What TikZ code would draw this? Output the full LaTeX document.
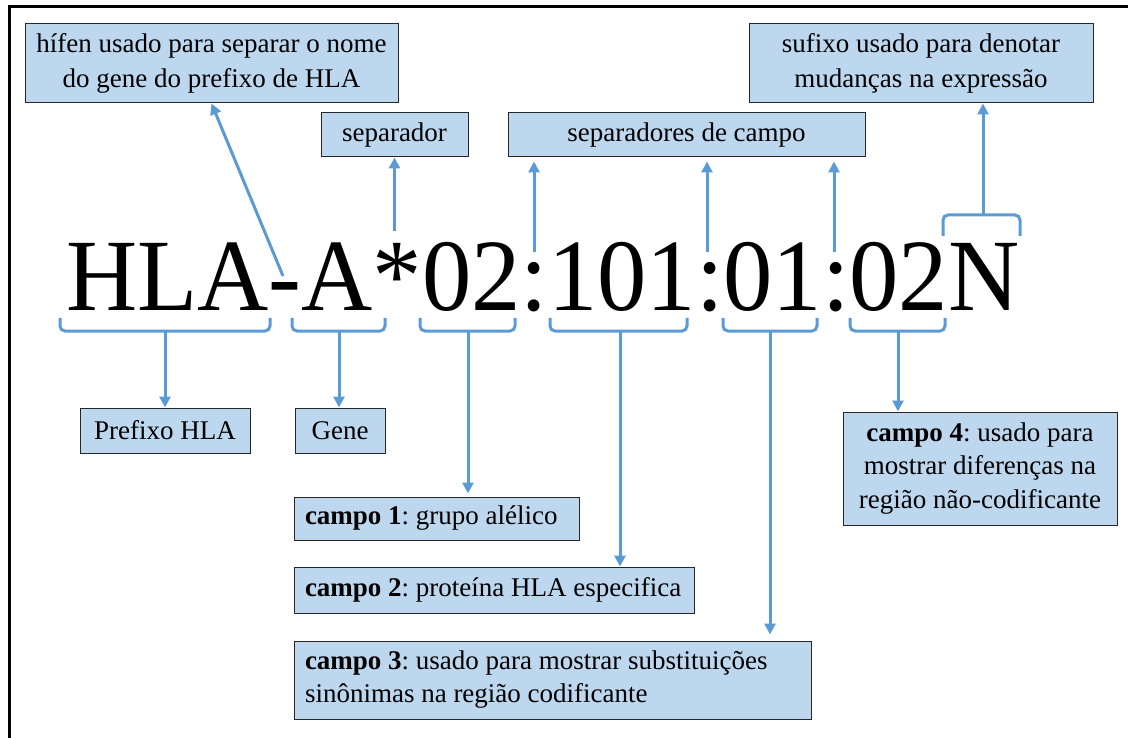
\documentclass[tikz,border=0pt]{standalone}
\usepackage{fontspec}
\setmainfont{Liberation Serif}
\usetikzlibrary{arrows.meta}
\definecolor{boxblue}{RGB}{189,215,238}
\definecolor{arrblue}{RGB}{91,155,213}
\frenchspacing
\begin{document}
\begin{tikzpicture}[x=1pt,y=-1pt,
  lbl/.style={draw=black!85, line width=1pt, fill=boxblue, inner sep=0pt,
    font=\fontsize{27}{33}\selectfont\frenchspacing, align=center},
  lblleft/.style={lbl, align=flush left},
  conn/.style={arrblue, line width=3pt, -{Triangle[length=11pt,width=11pt]}},
  brc/.style={arrblue, line width=3pt, rounded corners=5pt}]
\useasboundingbox (0,0) rectangle (1128,738);
\draw[line width=3.5pt] (9.5,738) -- (9.5,6.5) -- (1128,6.5);

% main code
\node[anchor=base west, inner sep=0pt, font=\fontsize{98.6}{98}\selectfont] (code) at (66,311)
  {\scalebox{1}[1.04]{HLA-A*02:101:01:02N}};

% boxes
\node[lbl, minimum width=373pt, minimum height=79pt, font=\fontsize{27}{35}\selectfont] (hifen) at (211.5,63.5)
  {hífen usado para separar o nome\\do gene do prefixo de HLA};
\node[lbl, minimum width=147pt, minimum height=44pt] (sep) at (394.5,135) {separador};
\node[lbl, minimum width=357pt, minimum height=44pt] (sepc) at (686.5,135) {separadores de campo};
\node[lbl, minimum width=344pt, minimum height=79pt, font=\fontsize{27}{35}\selectfont] (sufixo) at (921,63.5)
  {sufixo usado para denotar\\mudanças na expressão};
\node[lbl, minimum width=170pt, minimum height=45pt] (prefixo) at (165,430.5) {Prefixo HLA};
\node[lbl, minimum width=90pt, minimum height=45pt] (gene) at (340,430.5) {Gene};
\node[lblleft, minimum width=285pt, minimum height=43pt, text width=263pt] (c1) at (436.5,518.5)
  {\textbf{campo 1}: grupo alélico};
\node[lblleft, minimum width=400pt, minimum height=46pt, text width=378pt] (c2) at (494,590)
  {\textbf{campo 2}: proteína HLA especifica};
\node[lblleft, minimum width=517pt, minimum height=78pt, text width=495pt] (c3) at (552.5,680)
  {\textbf{campo 3}: usado para mostrar substituições\\sinônimas na região codificante};
\node[lbl, minimum width=274pt, minimum height=113pt, font=\fontsize{27}{33.5}\selectfont] (c4) at (980,468.5)
  {\textbf{campo 4}: usado para\\mostrar diferenças na\\região não-codificante};

% braces
\draw[brc] (60,318) -- (60,331) -- (270,331) -- (270,318);
\draw[brc] (292,318) -- (292,331) -- (385,331) -- (385,318);
\draw[brc] (420,318) -- (420,331) -- (515,331) -- (515,318);
\draw[brc] (550,318) -- (550,331) -- (687,331) -- (687,318);
\draw[brc] (723,318) -- (723,331) -- (817,331) -- (817,318);
\draw[brc] (850,318) -- (850,331) -- (945,331) -- (945,318);
\draw[brc] (943,236) -- (943,215) -- (1020,215) -- (1020,236);

\coordinate (bHLA) at (165,331);
\coordinate (bA) at (339,331);
\coordinate (bF1) at (468,331);
\coordinate (bF2) at (620,331);
\coordinate (bF3) at (770,331);
\coordinate (bF4) at (898,331);
\coordinate (bN) at (983,215);
\coordinate (hy) at (283,276);
\coordinate (ast) at (394.5,231);
\coordinate (col1) at (534,252);
\coordinate (col2) at (707,252);
\coordinate (col3) at (834,252);

% connectors
\draw[conn] (bHLA) -- (bHLA |- prefixo.north);
\draw[conn] (bA) -- (bA |- gene.north);
\draw[conn, shorten >=3pt] (bF1) -- (bF1 |- c1.north);
\draw[conn] (bF2) -- (bF2 |- c2.north);
\draw[conn, shorten >=6pt] (bF3) -- (bF3 |- c3.north);
\draw[conn] (bF4) -- (bF4 |- c4.north);
\draw[conn] (bN) -- (bN |- sufixo.south);
\draw[conn] (hy) -- (hifen.south);
\draw[conn] (ast) -- (sep.south);
\draw[conn, shorten >=4pt] (col1) -- (col1 |- sepc.south);
\draw[conn, shorten >=4pt] (col2) -- (col2 |- sepc.south);
\draw[conn, shorten >=4pt] (col3) -- (col3 |- sepc.south);
\end{tikzpicture}
\end{document}
